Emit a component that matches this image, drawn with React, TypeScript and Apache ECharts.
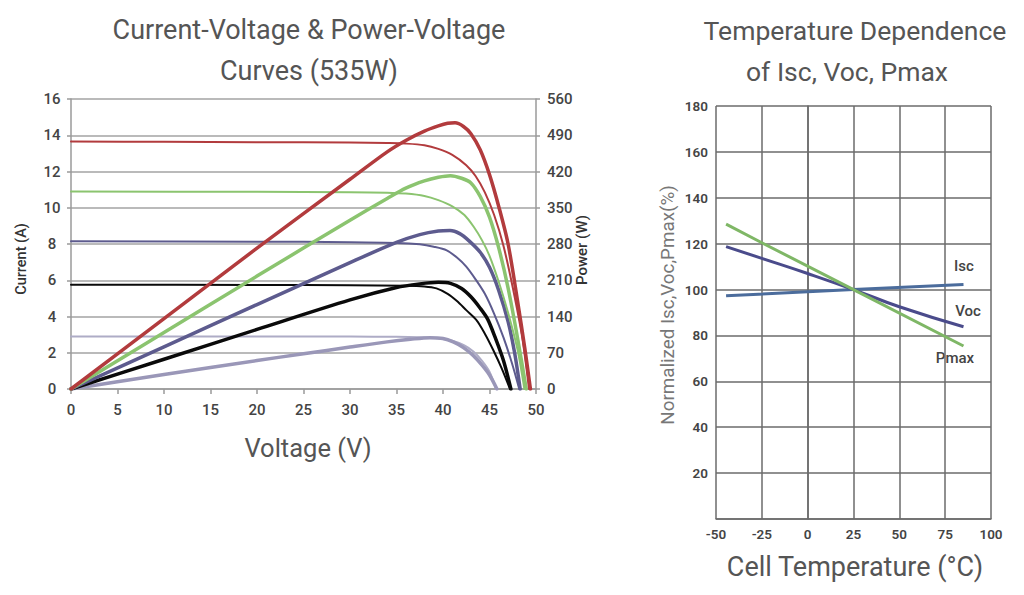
import React, { useEffect, useRef } from "react";
import * as echarts from "echarts";

// ---------- Left chart data (Voltage V, Current A / Power W) ----------
const voltageTicks = [0, 5, 10, 15, 20, 25, 30, 35, 40, 45, 50];

const ivRed = [[0, 13.65], [10, 13.64], [20, 13.62], [30, 13.6], [34, 13.57], [36, 13.54], [38, 13.45], [39.5, 13.25], [41, 12.92], [42.5, 12.35], [43.5, 11.75], [44.5, 10.85], [45.5, 9.6], [46.5, 7.9], [47.5, 5.6], [48.5, 2.9], [49.25, 0]];
const pvRed = [[0, 0], [10, 136], [20, 272], [30, 405], [34, 458], [36, 480], [38, 498], [39.5, 508], [40.5, 513], [41.3, 514], [42.2, 507], [43, 493], [44, 462], [45, 414], [46, 352], [47, 280], [48, 172], [48.8, 78], [49.4, 0]];

const ivGreen = [[0, 10.9], [20, 10.88], [30, 10.86], [34, 10.83], [36, 10.78], [38, 10.65], [39.5, 10.42], [41, 10.08], [42.3, 9.6], [43.3, 8.95], [44.2, 8.2], [45, 7.35], [46, 5.9], [47, 4.2], [48, 2.2], [48.75, 0]];
const pvGreen = [[0, 0], [10, 109], [20, 218], [30, 326], [34, 368], [36, 388], [38, 402], [39.5, 409], [40.8, 412], [42, 407], [43, 398], [44, 372], [45, 332], [46, 272], [47, 195], [48, 100], [48.95, 0]];

const ivSlate = [[0, 8.15], [20, 8.13], [30, 8.1], [35, 8.06], [37.5, 7.98], [39, 7.85], [40.4, 7.65], [41.5, 7.25], [42.5, 6.75], [43.5, 6.05], [44.5, 5.25], [45.5, 4.15], [46.5, 2.85], [47.4, 1.45], [48.2, 0]];
const pvSlate = [[0, 0], [10, 81.5], [20, 163], [30, 244], [35, 283], [37.5, 298], [39.5, 305], [40.75, 306], [41.8, 300], [42.8, 286], [44, 264], [45, 235], [46, 190], [47, 130], [47.7, 70], [48.3, 0]];

const ivBlack = [[0, 5.75], [20, 5.74], [30, 5.72], [36, 5.7], [38, 5.66], [39.3, 5.55], [40.5, 5.25], [41.5, 4.85], [42.5, 4.35], [43.6, 3.8], [44.5, 3.05], [45.4, 2.15], [46.3, 1.15], [47.2, 0]];
const pvBlack = [[0, 0], [10, 57.5], [20, 115], [30, 172], [35, 196], [37.5, 203], [39.5, 206], [40.8, 204], [42, 194], [43, 178], [44, 156], [44.8, 135], [45.6, 100], [46.5, 55], [47.3, 0]];

const ivLav = [[0, 2.9], [20, 2.9], [30, 2.89], [35, 2.88], [37.5, 2.85], [39.5, 2.79], [41, 2.66], [42.3, 2.4], [43.3, 2.05], [44.2, 1.55], [45, 0.95], [45.7, 0]];
const pvLav = [[0, 0], [10, 28], [20, 55], [25, 68], [30, 81], [34, 91], [36.5, 96], [38.6, 99], [40, 97.5], [41.1, 91], [42.2, 80], [43.3, 64], [44.2, 46], [45, 27], [45.8, 0]];

// ---------- Right chart data (Cell temperature °C, normalized %) ----------
const tempTicks = [-50, -25, 0, 25, 50, 75, 100];
const iscLine = [[-44.5, 97.3], [25, 100], [85, 102.2]];
const vocLine = [[-44.5, 118.7], [-25, 113.6], [0, 107], [25, 100], [50, 92.5], [85, 83.8]];
const pmaxLine = [[-44.5, 128.5], [-25, 120.4], [25, 100], [85, 75.4]];

const FONT = "Roboto";
const RED = "#b23b3d";
const GREEN = "#8bc46f";
const SLATE = "#5d5b8e";
const BLACK = "#0a0a0a";
const LAV = "#9a97b8";
const LAV_IV = "#aeacc6";

function curve(data: number[][], color: string, width: number, yAxisIndex: number) {
  return {
    type: "line",
    data,
    xAxisIndex: 0,
    yAxisIndex,
    smooth: 0.3,
    showSymbol: false,
    symbol: "none",
    lineStyle: { color, width, cap: "round", join: "round" },
    silent: true,
  };
}

function tline(data: number[][], color: string, smooth: boolean) {
  return {
    type: "line",
    data,
    xAxisIndex: 1,
    yAxisIndex: 2,
    smooth,
    showSymbol: false,
    symbol: "none",
    lineStyle: { color, width: 3 },
    silent: true,
    z: 5,
  };
}

function txt(text: string, x: number, y: number, size: number, color: string, weight: any, rotation = 0) {
  return {
    type: "text",
    x,
    y,
    rotation,
    silent: true,
    style: {
      text,
      fill: color,
      fontSize: size,
      fontFamily: FONT,
      fontWeight: weight,
      textAlign: "center",
      textVerticalAlign: "middle",
      verticalAlign: "middle",
    },
  };
}

export default function App() {
  const ref = useRef<HTMLDivElement>(null);

  useEffect(() => {
    if (!ref.current) return;
    const chart = echarts.init(ref.current, undefined, { renderer: "svg" });
    const labelStyle = { color: "#444", fontSize: 15, fontFamily: FONT, fontWeight: 500 };
    const option: any = {
      animation: false,
      backgroundColor: "#ffffff",
      grid: [
        { left: 71, right: 488, top: 99, bottom: 206, containLabel: false },
        { left: 716, right: 33, top: 106, bottom: 76, containLabel: false },
      ],
      xAxis: [
        {
          type: "value",
          gridIndex: 0,
          min: voltageTicks[0],
          max: voltageTicks[voltageTicks.length - 1],
          interval: 5,
          axisLine: { show: true, lineStyle: { color: "#9a9a9a", width: 1.5 } },
          axisTick: { show: true, length: 5, lineStyle: { color: "#9a9a9a", width: 1.5 } },
          splitLine: { show: false },
          axisLabel: { ...labelStyle, margin: 13 },
        },
        {
          type: "value",
          gridIndex: 1,
          min: tempTicks[0],
          max: tempTicks[tempTicks.length - 1],
          interval: 25,
          axisLine: { show: true, lineStyle: { color: "#6b6b6b", width: 1.5 } },
          axisTick: { show: false },
          splitLine: { show: true, lineStyle: { color: "#6b6b6b", width: 1.5 } },
          axisLabel: { ...labelStyle, fontSize: 13.5, fontWeight: 600, margin: 8 },
        },
      ],
      yAxis: [
        {
          type: "value",
          gridIndex: 0,
          min: 0,
          max: 16,
          interval: 2,
          axisLine: { show: true, lineStyle: { color: "#9a9a9a", width: 1.5 } },
          axisTick: { show: true, length: 4, lineStyle: { color: "#9a9a9a", width: 1.5 } },
          splitLine: { show: true, lineStyle: { color: "#a3a3a3", width: 1.5 } },
          axisLabel: { ...labelStyle, margin: 19, align: "center" },
        },
        {
          type: "value",
          gridIndex: 0,
          position: "right",
          min: 0,
          max: 560,
          interval: 70,
          axisLine: { show: true, lineStyle: { color: "#9a9a9a", width: 1.5 } },
          axisTick: { show: true, length: 4, lineStyle: { color: "#9a9a9a", width: 1.5 } },
          splitLine: { show: false },
          axisLabel: { ...labelStyle, margin: 11, align: "left" },
        },
        {
          type: "value",
          gridIndex: 1,
          min: 0,
          max: 180,
          interval: 20,
          axisLine: { show: true, lineStyle: { color: "#6b6b6b", width: 1.5 } },
          axisTick: { show: false },
          splitLine: { show: true, lineStyle: { color: "#6b6b6b", width: 1.5 } },
          axisLabel: {
            ...labelStyle,
            fontSize: 13.5,
            fontWeight: 600,
            margin: 8,
            formatter: (v: number) => (v === 0 ? "" : String(v)),
          },
        },
      ],
      series: [
        curve(ivLav, LAV_IV, 2, 0),
        curve(pvLav, LAV, 3.5, 1),
        curve(ivBlack, BLACK, 2, 0),
        curve(pvBlack, BLACK, 3.5, 1),
        curve(ivSlate, SLATE, 2, 0),
        curve(pvSlate, SLATE, 3.5, 1),
        curve(ivGreen, GREEN, 2, 0),
        curve(pvGreen, GREEN, 3.5, 1),
        curve(ivRed, RED, 2, 0),
        curve(pvRed, RED, 3.5, 1),
        tline(iscLine, "#4b6c9c", false),
        tline(vocLine, "#4a4b8b", true),
        tline(pmaxLine, "#7fb766", false),
      ],
      graphic: [
        txt("Current-Voltage & Power-Voltage", 309, 30, 27, "#555", 400),
        txt("Curves (535W)", 309, 71, 27, "#555", 400),
        txt("Temperature Dependence", 855, 30, 26.5, "#555", 400),
        txt("of Isc, Voc, Pmax", 847, 71, 26.5, "#555", 400),
        txt("Current (A)", 21, 259, 14.5, "#333", 500, Math.PI / 2),
        txt("Power (W)", 582, 250, 15, "#333", 500, Math.PI / 2),
        txt("Voltage (V)", 308, 448, 25.5, "#555", 400),
        txt("Normalized Isc,Voc,Pmax(%)", 668, 305, 18.8, "#777", 400, Math.PI / 2),
        txt("Cell Temperature (°C)", 855, 567, 27, "#555", 400),
        txt("Isc", 964, 266, 15, "#444", 500),
        txt("Voc", 968, 311, 15, "#444", 500),
        txt("Pmax", 955, 358, 15, "#444", 500),
      ],
    };
    chart.setOption(option);
    return () => chart.dispose();
  }, []);

  return (
    <div
      ref={ref}
      style={{ position: "fixed", left: 0, top: 0, width: 1024, height: 595, background: "#fff" }}
    />
  );
}
